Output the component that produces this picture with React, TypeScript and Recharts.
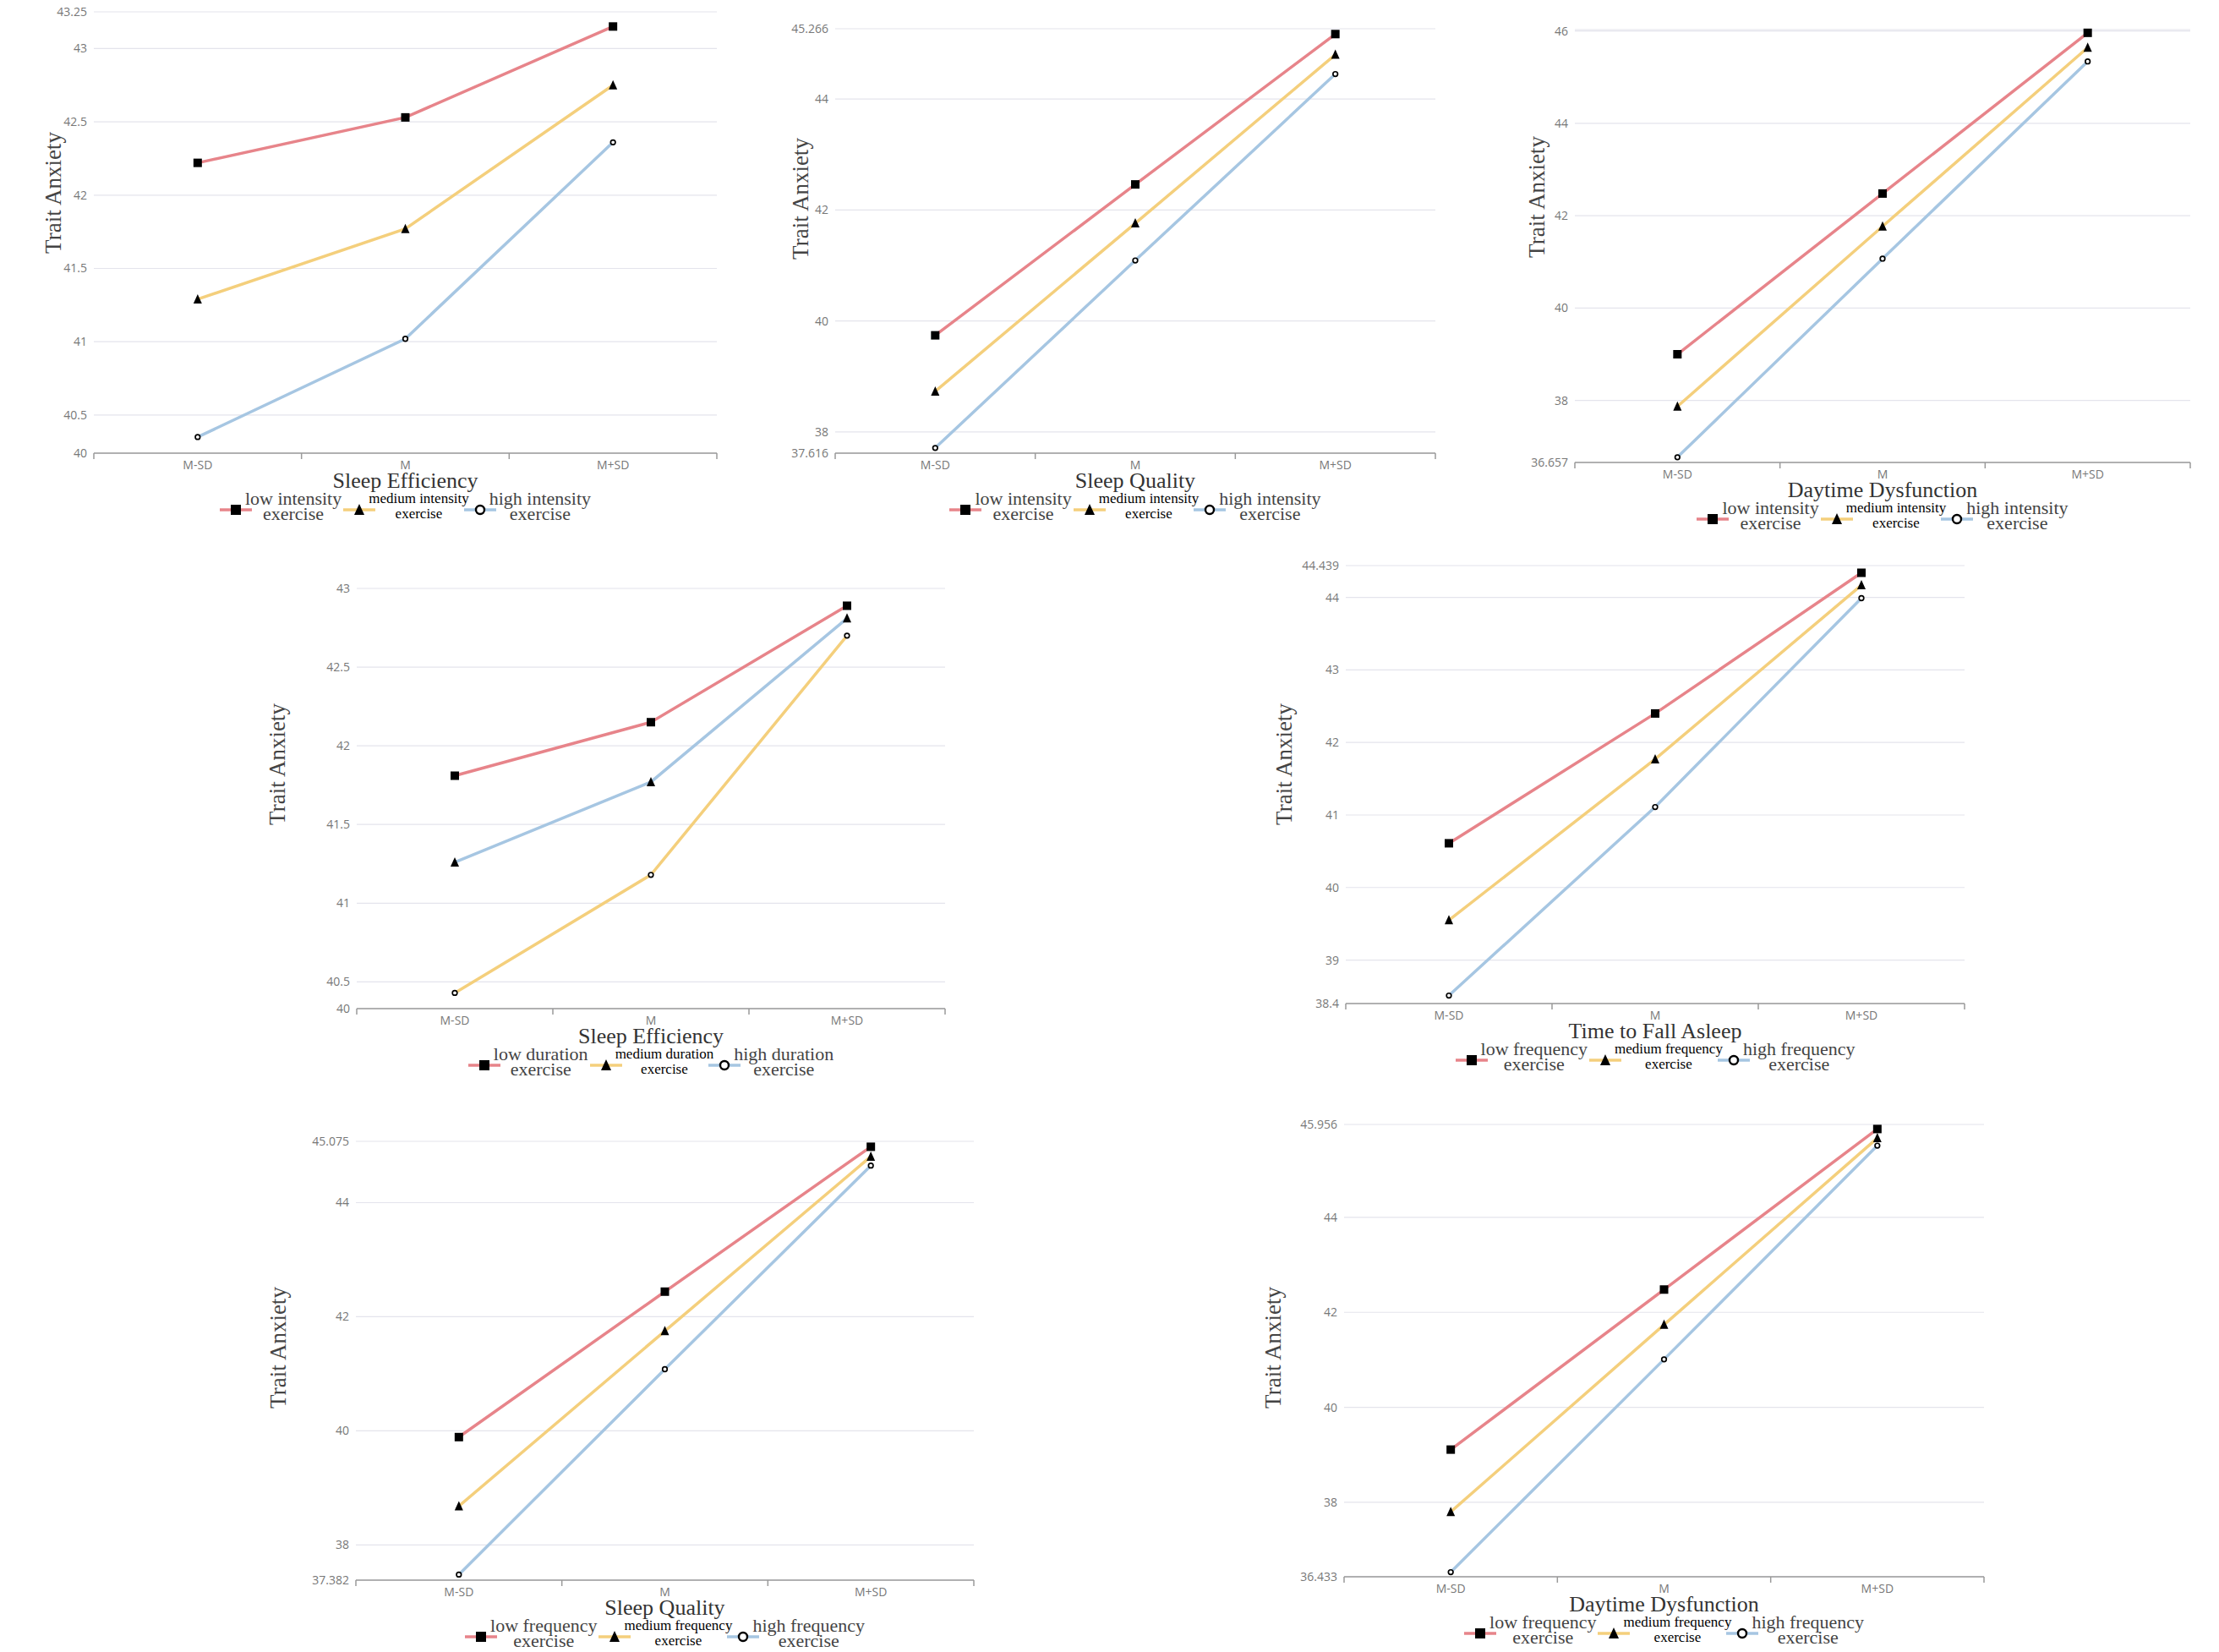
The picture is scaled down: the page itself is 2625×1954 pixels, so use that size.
import React from "react";
import { LineChart, Line, XAxis, YAxis, CartesianGrid } from "recharts";

const categories = ["M-SD", "M", "M+SD"];

// panel 1: intensity x sleep efficiency
const p1Low = [42.22, 42.53, 43.15];
const p1Medium = [41.29, 41.77, 42.75];
const p1High = [40.35, 41.02, 42.36];
const p1Ticks = [40.24, 40.5, 41, 41.5, 42, 42.5, 43, 43.25];
const p1TickLabels = ["40", "40.5", "41", "41.5", "42", "42.5", "43", "43.25"];

// panel 2: intensity x sleep quality
const p2Low = [39.74, 42.46, 45.17];
const p2Medium = [38.73, 41.76, 44.8];
const p2High = [37.71, 41.09, 44.45];
const p2Ticks = [37.616, 38, 40, 42, 44, 45.266];
const p2TickLabels = ["37.616", "38", "40", "42", "44", "45.266"];

// panel 3: intensity x daytime dysfunction
const p3Low = [39.0, 42.48, 45.96];
const p3Medium = [37.87, 41.77, 45.64];
const p3High = [36.77, 41.07, 45.34];
const p3Ticks = [36.657, 38, 40, 42, 44, 46, 46.03];
const p3TickLabels = ["36.657", "38", "40", "42", "44", "46", ""];

// panel 4: duration x sleep efficiency
const p4Low = [41.81, 42.15, 42.89];
const p4Medium = [40.43, 41.18, 42.7];
const p4High = [41.26, 41.77, 42.81];
const p4Ticks = [40.33, 40.5, 41, 41.5, 42, 42.5, 43];
const p4TickLabels = ["40", "40.5", "41", "41.5", "42", "42.5", "43"];

// panel 5: frequency x time to fall asleep
const p5Low = [40.61, 42.4, 44.34];
const p5Medium = [39.55, 41.77, 44.17];
const p5High = [38.51, 41.11, 43.99];
const p5Ticks = [38.4, 39, 40, 41, 42, 43, 44, 44.439];
const p5TickLabels = ["38.4", "39", "40", "41", "42", "43", "44", "44.439"];

// panel 6: frequency x sleep quality
const p6Low = [39.89, 42.44, 44.98];
const p6Medium = [38.68, 41.75, 44.81];
const p6High = [37.48, 41.08, 44.65];
const p6Ticks = [37.382, 38, 40, 42, 44, 45.075];
const p6TickLabels = ["37.382", "38", "40", "42", "44", "45.075"];

// panel 7: frequency x daytime dysfunction
const p7Low = [39.11, 42.48, 45.86];
const p7Medium = [37.8, 41.74, 45.67];
const p7High = [36.53, 41.01, 45.51];
const p7Ticks = [36.433, 38, 40, 42, 44, 45.956];
const p7TickLabels = ["36.433", "38", "40", "42", "44", "45.956"];

const intensityNames = ["intensity", "intensity", "intensity"];
const durationNames = ["duration", "duration", "duration"];
const frequencyNames = ["frequency", "frequency", "frequency"];

const RED = "#E7848A";
const YELLOW = "#F4CF7C";
const BLUE = "#A6C6E2";

const SERIF = "'Liberation Serif', 'Times New Roman', serif";
const SANS = "'Open Sans', 'DejaVu Sans', sans-serif";

type Shape = "square" | "triangle" | "circle";

function Marker({ cx, cy, shape, big }: { cx: number; cy: number; shape: Shape; big?: boolean }) {
  const s = big ? 6 : 5;
  if (shape === "square")
    return <rect x={cx - s} y={cy - s} width={s * 2} height={s * 2} fill="#000" />;
  if (shape === "triangle")
    return (
      <polygon
        points={`${cx},${cy - s - 1} ${cx + s},${cy + s} ${cx - s},${cy + s}`}
        fill="#000"
      />
    );
  return (
    <circle
      cx={cx}
      cy={cy}
      r={big ? 5 : 2.8}
      fill="#fff"
      stroke="#000"
      strokeWidth={big ? 2.4 : 1.7}
    />
  );
}

function buildRows(low: number[], medium: number[], high: number[]) {
  return categories.map((c, i) => ({ cat: c, low: low[i], medium: medium[i], high: high[i] }));
}

type Panel = {
  title: string;
  names: string[];
  low: number[];
  medium: number[];
  high: number[];
  ticks: number[];
  tickLabels: string[];
  shapes: Shape[];
  plotL: number;
  plotR: number;
  plotT: number;
  plotB: number;
  ylx: number;
  yly: number;
};

const stdShapes: Shape[] = ["square", "triangle", "circle"];

const panels: Panel[] = [
  { title: "Sleep Efficiency", names: intensityNames, low: p1Low, medium: p1Medium, high: p1High, ticks: p1Ticks, tickLabels: p1TickLabels, shapes: stdShapes, plotL: 111, plotR: 848, plotT: 14, plotB: 537, ylx: 63, yly: 228 },
  { title: "Sleep Quality", names: intensityNames, low: p2Low, medium: p2Medium, high: p2High, ticks: p2Ticks, tickLabels: p2TickLabels, shapes: stdShapes, plotL: 988, plotR: 1698, plotT: 34, plotB: 537, ylx: 947, yly: 235 },
  { title: "Daytime Dysfunction", names: intensityNames, low: p3Low, medium: p3Medium, high: p3High, ticks: p3Ticks, tickLabels: p3TickLabels, shapes: stdShapes, plotL: 1863, plotR: 2591, plotT: 35, plotB: 548, ylx: 1818, yly: 233 },
  { title: "Sleep Efficiency", names: durationNames, low: p4Low, medium: p4Medium, high: p4High, ticks: p4Ticks, tickLabels: p4TickLabels, shapes: ["square", "circle", "triangle"], plotL: 422, plotR: 1118, plotT: 696, plotB: 1194, ylx: 328, yly: 904 },
  { title: "Time to Fall Asleep", names: frequencyNames, low: p5Low, medium: p5Medium, high: p5High, ticks: p5Ticks, tickLabels: p5TickLabels, shapes: stdShapes, plotL: 1592, plotR: 2324, plotT: 669, plotB: 1188, ylx: 1519, yly: 904 },
  { title: "Sleep Quality", names: frequencyNames, low: p6Low, medium: p6Medium, high: p6High, ticks: p6Ticks, tickLabels: p6TickLabels, shapes: stdShapes, plotL: 421, plotR: 1152, plotT: 1350, plotB: 1870, ylx: 329, yly: 1594 },
  { title: "Daytime Dysfunction", names: frequencyNames, low: p7Low, medium: p7Medium, high: p7High, ticks: p7Ticks, tickLabels: p7TickLabels, shapes: stdShapes, plotL: 1590, plotR: 2347, plotT: 1330, plotB: 1866, ylx: 1506, yly: 1594 },
];

function XTick(props: any) {
  const { x, y, payload, index, bw } = props;
  const axisY = y - 8;
  return (
    <g>
      <line x1={x - bw / 2} y1={axisY} x2={x - bw / 2} y2={axisY + 7} stroke="#9a9a9a" strokeWidth={1.5} />
      {index === categories.length - 1 && (
        <line x1={x + bw / 2} y1={axisY} x2={x + bw / 2} y2={axisY + 7} stroke="#9a9a9a" strokeWidth={1.5} />
      )}
      <text x={x} y={y} dy="0.75em" textAnchor="middle" fill="#777" fontSize={14} fontFamily={SANS}>
        {payload.value}
      </text>
    </g>
  );
}

function LegendItem({ color, shape, word, level, shift }: { color: string; shape: Shape; word: string; level: string; shift: number }) {
  const isMedium = level === "medium";
  return (
    <div style={{ display: "flex", alignItems: "center", marginLeft: shift }}>
      <svg width={38} height={16} style={{ marginTop: 8, overflow: "visible" }}>
        <line x1={0} y1={8} x2={38} y2={8} stroke={color} strokeWidth={3.5} />
        <Marker cx={19} cy={8} shape={shape} big />
      </svg>
      <div
        style={{
          marginLeft: -8,
          textAlign: "center",
          fontFamily: SERIF,
          fontSize: isMedium ? 17 : 22,
          lineHeight: "18px",
          color: isMedium ? "#000" : "#444",
          whiteSpace: "pre",
        }}
      >
        {`${level} ${word}`}
        <br />
        exercise
      </div>
    </div>
  );
}

function PanelChart({ p }: { p: Panel }) {
  const rows = buildRows(p.low, p.medium, p.high);
  const plotW = p.plotR - p.plotL;
  const plotH = p.plotB - p.plotT;
  const chartLeft = p.plotL - 120;
  const chartTop = p.plotT - 10;
  const bw = plotW / categories.length;
  const colors = [RED, YELLOW, BLUE];
  const keys = ["low", "medium", "high"];
  return (
    <>
      <div style={{ position: "absolute", left: chartLeft, top: chartTop }}>
        <LineChart
          width={plotW + 130}
          height={plotH + 60}
          data={rows}
          margin={{ top: 10, right: 10, bottom: 10, left: 60 }}
        >
          <CartesianGrid vertical={false} stroke="#e4e4ec" strokeWidth={1.2} />
          <XAxis
            dataKey="cat"
            height={41}
            padding={{ left: bw / 2, right: bw / 2 }}
            axisLine={{ stroke: "#9a9a9a", strokeWidth: 1.5 }}
            tickLine={false}
            tickSize={6}
            tickMargin={2}
            interval={0}
            tick={(tp: any) => <XTick {...tp} bw={bw} />}
            label={{ value: p.title, position: "insideBottom", offset: 0, fill: "#333", fontSize: 26, fontFamily: SERIF }}
          />
          <YAxis
            width={60}
            type="number"
            domain={[p.ticks[0], p.ticks[p.ticks.length - 1]]}
            ticks={p.ticks}
            interval={0}
            axisLine={false}
            tickLine={false}
            tickFormatter={(v: number, i: number) => p.tickLabels[i] ?? String(v)}
            tick={{ fill: "#777", fontSize: 14, fontFamily: SANS }}
          />
          {keys.map((k, si) => (
            <Line
              key={k}
              type="linear"
              dataKey={k}
              stroke={colors[si]}
              strokeWidth={3.5}
              isAnimationActive={false}
              dot={(dp: any) => (
                <Marker key={`${k}-${dp.index}`} cx={dp.cx} cy={dp.cy} shape={p.shapes[si]} />
              )}
              activeDot={false}
            />
          ))}
        </LineChart>
      </div>
      <div
        style={{
          position: "absolute",
          left: p.ylx,
          top: p.yly,
          transform: "translate(-50%, -50%) rotate(-90deg)",
          fontFamily: SERIF,
          fontSize: 27,
          color: "#444",
          whiteSpace: "nowrap",
        }}
      >
        Trait Anxiety
      </div>
      <div
        style={{
          position: "absolute",
          left: p.plotL,
          width: plotW,
          top: p.plotB + 44,
          display: "flex",
          justifyContent: "center",
          alignItems: "center",
        }}
      >
        <LegendItem color={RED} shape="square" word={p.names[0]} level="low" shift={0} />
        <LegendItem color={YELLOW} shape="triangle" word={p.names[1]} level="medium" shift={2} />
        <LegendItem color={BLUE} shape="circle" word={p.names[2]} level="high" shift={-6} />
      </div>
    </>
  );
}

export default function App() {
  return (
    <div
      style={{
        position: "absolute",
        left: 0,
        top: 0,
        width: 2625,
        height: 1954,
        background: "#fff",
        overflow: "hidden",
      }}
    >
      {panels.map((p, i) => (
        <PanelChart key={i} p={p} />
      ))}
    </div>
  );
}
